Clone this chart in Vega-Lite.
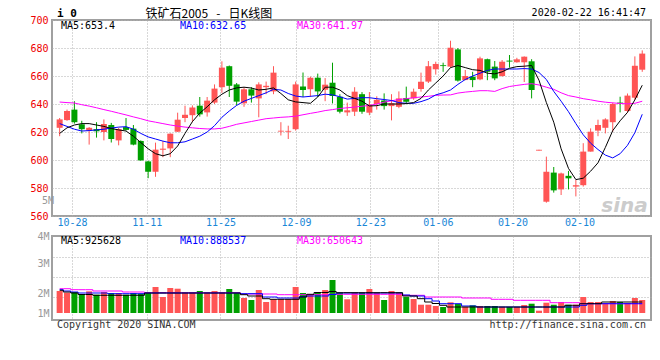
{
  "$schema": "https://vega.github.io/schema/vega-lite/v6.json",
  "padding": {"left": 28, "top": 6, "right": 5, "bottom": 5},
  "background": "white",
  "bounds": "flush",
  "spacing": 20,
  "config": {
    "view": {"stroke": "#a0a0a0", "strokeWidth": 2},
    "axis": {"ticks": false, "domain": false, "gridColor": "#b0b0b0", "gridDash": [1, 2], "gridWidth": 1, "labelFont": "DejaVu Sans Mono", "labelFontSize": 10, "labelOverlap": false, "labelFlush": false},
    "text": {"font": "DejaVu Sans Mono", "fontSize": 10, "baseline": "middle"},
    "line": {"strokeWidth": 1}
  },
  "datasets": {
    "k": [
      {"i":0,"o":623,"h":630,"l":617,"c":629,"v":2.1,"m5":619,"m10":626,"m30":641.4,"a5":2.135,"a10":2.165,"a30":2.215},
      {"i":1,"o":628.5,"h":636,"l":628,"c":635,"v":2.015,"m5":623,"m10":624,"m30":641,"a5":2.05,"a10":2.1,"a30":2.215},
      {"i":2,"o":636,"h":642,"l":626,"c":627,"v":2.05,"m5":625,"m10":622,"m30":640.7,"a5":2.0,"a10":2.05,"a30":2.165},
      {"i":3,"o":625.5,"h":628,"l":619,"c":622,"v":1.915,"m5":626,"m10":620.7,"m30":639.5,"a5":1.925,"a10":2.0,"a30":2.165},
      {"i":4,"o":621,"h":623.5,"l":611,"c":623,"v":2.085,"m5":626,"m10":621,"m30":638.5,"a5":1.925,"a10":2.0,"a30":2.165},
      {"i":5,"o":622,"h":627,"l":616,"c":620.5,"v":1.915,"m5":625,"m10":621.5,"m30":637.3,"a5":1.885,"a10":2.0,"a30":2.1},
      {"i":6,"o":620,"h":629,"l":614,"c":625.7,"v":2.05,"m5":624,"m10":622,"m30":636,"a5":1.885,"a10":2.0,"a30":2.1},
      {"i":7,"o":625,"h":626.5,"l":612.5,"c":615,"v":2.0,"m5":622.5,"m10":622.8,"m30":634.8,"a5":1.885,"a10":1.965,"a30":2.1},
      {"i":8,"o":614,"h":623,"l":610.5,"c":622,"v":2.0,"m5":621.5,"m10":623.5,"m30":633.5,"a5":1.885,"a10":1.965,"a30":2.1},
      {"i":9,"o":623.5,"h":630,"l":621,"c":621.5,"v":1.915,"m5":620.7,"m10":623.8,"m30":632.2,"a5":1.885,"a10":1.965,"a30":2.05},
      {"i":10,"o":622.4,"h":625,"l":610.5,"c":611,"v":2.0,"m5":617,"m10":622,"m30":630.8,"a5":1.885,"a10":1.965,"a30":2.05},
      {"i":11,"o":613.6,"h":614,"l":599.5,"c":599.7,"v":1.965,"m5":612.5,"m10":619,"m30":629.5,"a5":1.885,"a10":1.965,"a30":2.05},
      {"i":12,"o":599,"h":599.5,"l":587,"c":591.6,"v":2.0,"m5":608,"m10":616.5,"m30":628,"a5":2.0,"a10":2.0,"a30":2.015},
      {"i":13,"o":591.6,"h":612.4,"l":588,"c":607.4,"v":2.3,"m5":604.5,"m10":615,"m30":627,"a5":2.0,"a10":2.0,"a30":2.015},
      {"i":14,"o":607.3,"h":613.5,"l":602,"c":608.1,"v":1.8,"m5":603,"m10":613.5,"m30":626,"a5":2.0,"a10":2.0,"a30":2.015},
      {"i":15,"o":608.3,"h":619,"l":602,"c":618.8,"v":2.25,"m5":604.5,"m10":612.3,"m30":625,"a5":2.0,"a10":2.0,"a30":2.015},
      {"i":16,"o":620.2,"h":633.8,"l":620,"c":628.8,"v":2.215,"m5":610,"m10":612.3,"m30":624.2,"a5":2.0,"a10":2.0,"a30":2.015},
      {"i":17,"o":630,"h":638.8,"l":627,"c":632.3,"v":2.0,"m5":619,"m10":613,"m30":623.5,"a5":2.0,"a10":2.0,"a30":2.015},
      {"i":18,"o":632,"h":639,"l":627,"c":637.5,"v":2.0,"m5":627.4,"m10":615,"m30":623,"a5":2.0,"a10":2.0,"a30":2.015},
      {"i":19,"o":638.8,"h":645,"l":631,"c":632.6,"v":2.1,"m5":633.5,"m10":617,"m30":622.5,"a5":2.0,"a10":2.0,"a30":2.015},
      {"i":20,"o":634,"h":645,"l":631,"c":642.4,"v":2.0,"m5":638,"m10":620,"m30":622.2,"a5":2.0,"a10":2.0,"a30":2.015},
      {"i":21,"o":641,"h":654,"l":640,"c":651,"v":2.1,"m5":643,"m10":624.5,"m30":622.2,"a5":2.0,"a10":2.0,"a30":2.015},
      {"i":22,"o":652,"h":670.5,"l":648,"c":666,"v":2.0,"m5":647,"m10":630.5,"m30":622.7,"a5":2.0,"a10":2.0,"a30":2.015},
      {"i":23,"o":667,"h":667.5,"l":645,"c":653,"v":2.2,"m5":650,"m10":635,"m30":624,"a5":2.0,"a10":2.0,"a30":2.015},
      {"i":24,"o":654,"h":655,"l":639,"c":641.7,"v":2.0,"m5":651.5,"m10":639,"m30":625.5,"a5":2.0,"a10":2.0,"a30":2.015},
      {"i":25,"o":640.5,"h":652,"l":638,"c":650.5,"v":1.75,"m5":652,"m10":642,"m30":626.5,"a5":1.915,"a10":1.965,"a30":1.95},
      {"i":26,"o":650.5,"h":652,"l":641,"c":646,"v":1.65,"m5":651.4,"m10":644,"m30":627.5,"a5":1.85,"a10":1.965,"a30":1.95},
      {"i":27,"o":644,"h":655.5,"l":630.5,"c":654,"v":2.15,"m5":650,"m10":646,"m30":628.5,"a5":1.85,"a10":1.965,"a30":1.95},
      {"i":28,"o":652,"h":656,"l":647,"c":653,"v":1.55,"m5":650.5,"m10":648,"m30":629.5,"a5":1.715,"a10":1.8,"a30":1.95},
      {"i":29,"o":649,"h":667,"l":647,"c":662.4,"v":1.685,"m5":651.5,"m10":650.5,"m30":630,"a5":1.685,"a10":1.8,"a30":1.95},
      {"i":30,"o":620.3,"h":627,"l":617.5,"c":620.9,"v":1.685,"m5":647.5,"m10":650,"m30":630.5,"a5":1.685,"a10":1.75,"a30":1.915},
      {"i":31,"o":620.2,"h":624.5,"l":615,"c":620.8,"v":1.685,"m5":643,"m10":647.5,"m30":630.8,"a5":1.685,"a10":1.75,"a30":1.915},
      {"i":32,"o":622,"h":656,"l":621,"c":654,"v":2.3,"m5":641.5,"m10":645.7,"m30":631.3,"a5":1.685,"a10":1.75,"a30":1.915},
      {"i":33,"o":652.5,"h":662.5,"l":645,"c":650,"v":2.0,"m5":641,"m10":645,"m30":632.3,"a5":1.8,"a10":1.815,"a30":1.915},
      {"i":34,"o":650.5,"h":659.5,"l":645,"c":658.8,"v":1.95,"m5":640.5,"m10":645.5,"m30":633.3,"a5":1.935,"a10":1.85,"a30":1.915},
      {"i":35,"o":658.8,"h":661.7,"l":645,"c":649,"v":2.05,"m5":645,"m10":646,"m30":634.2,"a5":2.025,"a10":1.85,"a30":1.915},
      {"i":36,"o":650.2,"h":658.5,"l":642,"c":653.8,"v":2.15,"m5":652,"m10":647,"m30":635.3,"a5":2.025,"a10":1.85,"a30":1.915},
      {"i":37,"o":655.2,"h":669.5,"l":640.4,"c":645.7,"v":2.65,"m5":652,"m10":646.5,"m30":636,"a5":2.075,"a10":1.925,"a30":1.935},
      {"i":38,"o":645.2,"h":647,"l":633.3,"c":634.5,"v":2.0,"m5":650,"m10":645.2,"m30":636.8,"a5":2.015,"a10":2.0,"a30":1.935},
      {"i":39,"o":634,"h":641,"l":631.5,"c":635.5,"v":1.685,"m5":646,"m10":643.5,"m30":637.3,"a5":2.015,"a10":2.0,"a30":1.935},
      {"i":40,"o":634.5,"h":652,"l":631.4,"c":648.8,"v":2.0,"m5":644,"m10":644,"m30":637.8,"a5":2.015,"a10":2.0,"a30":1.935},
      {"i":41,"o":647,"h":648.5,"l":633,"c":634.5,"v":2.0,"m5":642,"m10":644.5,"m30":638.4,"a5":2.015,"a10":2.0,"a30":1.935},
      {"i":42,"o":633.8,"h":648.5,"l":632,"c":639.5,"v":2.2,"m5":638.6,"m10":644.5,"m30":639,"a5":2.015,"a10":2.0,"a30":1.935},
      {"i":43,"o":640,"h":645.5,"l":636,"c":643,"v":2.0,"m5":638.8,"m10":643.8,"m30":640,"a5":2.015,"a10":2.0,"a30":1.935},
      {"i":44,"o":642.5,"h":647.6,"l":636,"c":638.5,"v":1.65,"m5":640,"m10":643.2,"m30":641.3,"a5":2.015,"a10":2.0,"a30":1.935},
      {"i":45,"o":638.5,"h":647,"l":628.3,"c":640.5,"v":2.1,"m5":640,"m10":642.5,"m30":642.3,"a5":2.015,"a10":2.0,"a30":1.935},
      {"i":46,"o":638,"h":649,"l":637,"c":644,"v":2.0,"m5":640,"m10":641,"m30":643.2,"a5":2.015,"a10":2.0,"a30":1.935},
      {"i":47,"o":644.3,"h":652.4,"l":640,"c":641.6,"v":1.8,"m5":640.3,"m10":640.5,"m30":643.8,"a5":1.85,"a10":1.9,"a30":1.885},
      {"i":48,"o":644,"h":651,"l":643,"c":648.8,"v":1.7,"m5":641,"m10":640.5,"m30":644.5,"a5":1.85,"a10":1.85,"a30":1.885},
      {"i":49,"o":650.7,"h":662.4,"l":648.8,"c":655.9,"v":1.415,"m5":644,"m10":641.7,"m30":645,"a5":1.715,"a10":1.85,"a30":1.885},
      {"i":50,"o":656,"h":670.7,"l":655,"c":667,"v":1.415,"m5":650,"m10":643.5,"m30":645.5,"a5":1.55,"a10":1.715,"a30":1.8},
      {"i":51,"o":664.8,"h":670.2,"l":661,"c":668.6,"v":1.35,"m5":655,"m10":646.5,"m30":646.2,"a5":1.475,"a10":1.6,"a30":1.8},
      {"i":52,"o":667.7,"h":669.5,"l":663,"c":667.1,"v":1.3,"m5":660,"m10":648,"m30":646.4,"a5":1.385,"a10":1.465,"a30":1.8},
      {"i":53,"o":666.7,"h":685.2,"l":666,"c":680.2,"v":1.535,"m5":666,"m10":650,"m30":646.5,"a5":1.3,"a10":1.465,"a30":1.8},
      {"i":54,"o":679,"h":680,"l":656,"c":656.7,"v":1.45,"m5":667.5,"m10":654,"m30":647.8,"a5":1.3,"a10":1.465,"a30":1.8},
      {"i":55,"o":657.1,"h":664.3,"l":657,"c":660,"v":1.3,"m5":666,"m10":657.5,"m30":648.5,"a5":1.3,"a10":1.35,"a30":1.75},
      {"i":56,"o":659.5,"h":663,"l":652,"c":657.1,"v":1.385,"m5":664.5,"m10":660,"m30":649,"a5":1.3,"a10":1.35,"a30":1.75},
      {"i":57,"o":657.6,"h":673.8,"l":657,"c":672.6,"v":1.35,"m5":664,"m10":662,"m30":649.5,"a5":1.3,"a10":1.3,"a30":1.75},
      {"i":58,"o":672,"h":672.4,"l":657,"c":663,"v":1.35,"m5":662,"m10":664,"m30":649.5,"a5":1.3,"a10":1.3,"a30":1.75},
      {"i":59,"o":666.7,"h":670.7,"l":657,"c":658.3,"v":1.35,"m5":661.5,"m10":665,"m30":649,"a5":1.3,"a10":1.3,"a30":1.685},
      {"i":60,"o":660,"h":671.4,"l":659.5,"c":670.2,"v":1.3,"m5":663,"m10":665,"m30":651,"a5":1.3,"a10":1.3,"a30":1.685},
      {"i":61,"o":671,"h":675,"l":666,"c":670.3,"v":1.3,"m5":665.5,"m10":665,"m30":652.5,"a5":1.3,"a10":1.3,"a30":1.685},
      {"i":62,"o":669.8,"h":673,"l":669.5,"c":671.9,"v":1.3,"m5":666.7,"m10":665,"m30":653.3,"a5":1.3,"a10":1.3,"a30":1.635},
      {"i":63,"o":669.8,"h":674,"l":655.7,"c":673.8,"v":1.4,"m5":667,"m10":665.3,"m30":654,"a5":1.3,"a10":1.3,"a30":1.635},
      {"i":64,"o":670.5,"h":672,"l":644,"c":650,"v":1.465,"m5":667.5,"m10":665,"m30":654.5,"a5":1.3,"a10":1.3,"a30":1.635},
      {"i":65,"o":606.7,"h":607.3,"l":606.7,"c":607.3,"v":1.115,"m5":657,"m10":662.5,"m30":653.6,"a5":1.3,"a10":1.3,"a30":1.635},
      {"i":66,"o":570.2,"h":602.4,"l":569.5,"c":591.6,"v":1.515,"m5":641,"m10":657.5,"m30":652,"a5":1.3,"a10":1.3,"a30":1.635},
      {"i":67,"o":591,"h":595,"l":576.7,"c":578.3,"v":1.415,"m5":627,"m10":649,"m30":650.5,"a5":1.3,"a10":1.3,"a30":1.515},
      {"i":68,"o":579,"h":591,"l":575,"c":590.4,"v":1.55,"m5":608,"m10":642,"m30":648,"a5":1.3,"a10":1.3,"a30":1.515},
      {"i":69,"o":588.7,"h":592.2,"l":579,"c":586.9,"v":1.415,"m5":594,"m10":634.5,"m30":646,"a5":1.385,"a10":1.3,"a30":1.515},
      {"i":70,"o":581,"h":585.7,"l":574,"c":582,"v":1.415,"m5":586,"m10":626,"m30":645,"a5":1.385,"a10":1.3,"a30":1.515},
      {"i":71,"o":582,"h":612,"l":581,"c":606,"v":1.8,"m5":587,"m10":618,"m30":643.8,"a5":1.465,"a10":1.385,"a30":1.465},
      {"i":72,"o":606,"h":622.6,"l":606,"c":620.2,"v":1.55,"m5":592,"m10":612,"m30":643,"a5":1.465,"a10":1.465,"a30":1.465},
      {"i":73,"o":621,"h":628.8,"l":617,"c":625,"v":1.55,"m5":598,"m10":607.5,"m30":642,"a5":1.465,"a10":1.465,"a30":1.465},
      {"i":74,"o":623,"h":629.8,"l":619,"c":629,"v":1.485,"m5":609,"m10":603.5,"m30":641.3,"a5":1.55,"a10":1.465,"a30":1.465},
      {"i":75,"o":627,"h":641,"l":620.2,"c":640,"v":1.6,"m5":621,"m10":601.5,"m30":640.8,"a5":1.55,"a10":1.465,"a30":1.465},
      {"i":76,"o":641,"h":645.2,"l":634,"c":640.3,"v":1.55,"m5":628,"m10":604.5,"m30":640.4,"a5":1.55,"a10":1.465,"a30":1.465},
      {"i":77,"o":635,"h":647.5,"l":633.8,"c":646,"v":1.5,"m5":634,"m10":610.5,"m30":640.1,"a5":1.55,"a10":1.465,"a30":1.465},
      {"i":78,"o":644.5,"h":674,"l":643,"c":667.3,"v":1.75,"m5":643,"m10":619.5,"m30":640.5,"a5":1.55,"a10":1.465,"a30":1.465},
      {"i":79,"o":664.5,"h":678.3,"l":663,"c":676,"v":1.65,"m5":653.4,"m10":632.65,"m30":641.97,"a5":1.55,"a10":1.465,"a30":1.465}
    ]
  },
  "vconcat": [
    {
      "width": 599,
      "height": 196,
      "data": {"name": "k"},
      "resolve": {"axis": {"x": "independent", "y": "independent"}},
      "layer": [
        {
          "mark": {"type": "rule", "strokeWidth": 1},
          "encoding": {
            "x": {"field": "i", "type": "quantitative", "scale": {"domain": [-0.36, 79.51], "nice": false, "zero": false},
              "axis": {"title": null, "values": [1.68, 11.81, 21.81, 32.04, 42.13, 51.29, 61.41, 70.49], "grid": true,
                "labelExpr": "datum.value < 5 ? '10-28' : datum.value < 15 ? '11-11' : datum.value < 25 ? '11-25' : datum.value < 35 ? '12-09' : datum.value < 45 ? '12-23' : datum.value < 55 ? '01-06' : datum.value < 65 ? '01-20' : '02-10'",
                "labelAlign": "center", "labelBaseline": "top", "labelPadding": 1, "labelColor": "#1a87d7", "labelOverlap": false, "labelFlush": false}},
            "y": {"field": "l", "type": "quantitative", "scale": {"domain": [560, 700], "nice": false, "zero": false},
              "axis": {"title": null, "values": [560, 580, 600, 620, 640, 660, 680, 700], "grid": true,
                "labelColor": "#ee0000", "labelPadding": 4, "labelOverlap": false}},
            "y2": {"field": "h"},
            "color": {"condition": {"test": "datum.c >= datum.o", "value": "#ff5555"}, "value": "#00a000"}
          }
        },
        {
          "mark": {"type": "bar", "width": 6},
          "encoding": {
            "x": {"field": "i", "type": "quantitative", "axis": null},
            "y": {"field": "o", "type": "quantitative", "axis": null},
            "y2": {"field": "c"},
            "color": {"condition": {"test": "datum.c >= datum.o", "value": "#ff5555"}, "value": "#00a000"}
          }
        },
        {
          "mark": {"type": "line", "color": "#ff00ff", "strokeWidth": 1},
          "encoding": {"x": {"field": "i", "type": "quantitative", "axis": null}, "y": {"field": "m30", "type": "quantitative", "axis": null}}
        },
        {
          "mark": {"type": "line", "color": "#0000ff", "strokeWidth": 1},
          "encoding": {"x": {"field": "i", "type": "quantitative", "axis": null}, "y": {"field": "m10", "type": "quantitative", "axis": null}}
        },
        {
          "mark": {"type": "line", "color": "#000000", "strokeWidth": 1},
          "encoding": {"x": {"field": "i", "type": "quantitative", "axis": null}, "y": {"field": "m5", "type": "quantitative", "axis": null}}
        },
        {
          "data": {"values": [{"t": "sina"}]},
          "mark": {"type": "text", "align": "center", "font": "DejaVu Sans", "fontSize": 20, "fontStyle": "italic", "fontWeight": "bold", "color": "#cccccc"},
          "encoding": {"x": {"datum": 76.6, "axis": null}, "y": {"datum": 567, "axis": null}, "text": {"field": "t"}}
        },
        {
          "data": {"values": [{"t": "5M"}]},
          "mark": {"type": "text", "align": "right", "color": "#999999"},
          "encoding": {"x": {"datum": -0.76, "axis": null}, "y": {"datum": 570.9, "axis": null}, "text": {"field": "t"}}
        },
        {
          "data": {"values": [{"t": "MA5:653.4"}]},
          "mark": {"type": "text", "align": "left", "color": "#000000"},
          "encoding": {"x": {"datum": 0.17, "axis": null}, "y": {"datum": 696, "axis": null}, "text": {"field": "t"}}
        },
        {
          "data": {"values": [{"t": "MA10:632.65"}]},
          "mark": {"type": "text", "align": "left", "color": "#0000ff"},
          "encoding": {"x": {"datum": 16.31, "axis": null}, "y": {"datum": 696, "axis": null}, "text": {"field": "t"}}
        },
        {
          "data": {"values": [{"t": "MA30:641.97"}]},
          "mark": {"type": "text", "align": "left", "color": "#ff00ff"},
          "encoding": {"x": {"datum": 32.17, "axis": null}, "y": {"datum": 696, "axis": null}, "text": {"field": "t"}}
        },
        {
          "data": {"values": [{"t": "i 0"}]},
          "mark": {"type": "text", "align": "left", "fontSize": 11, "fontWeight": "bold", "color": "#000000"},
          "encoding": {"x": {"datum": -0.36, "axis": null}, "y": {"datum": 704.5, "axis": null}, "text": {"field": "t"}}
        },
        {
          "data": {"values": [{"t": "铁矿石2005\u00a0\u00a0\u00a0-\u00a0\u00a0\u00a0日K线图"}]},
          "mark": {"type": "text", "align": "left", "font": "Noto Sans CJK SC", "fontSize": 12, "color": "#000000"},
          "encoding": {"x": {"datum": 11.64, "axis": null}, "y": {"datum": 704.5, "axis": null}, "text": {"field": "t"}}
        },
        {
          "data": {"values": [{"t": "2020-02-22 16:41:47"}]},
          "mark": {"type": "text", "align": "right", "color": "#000000"},
          "encoding": {"x": {"datum": 79.51, "axis": null}, "y": {"datum": 704.7, "axis": null}, "text": {"field": "t"}}
        }
      ]
    },
    {
      "width": 599,
      "height": 84,
      "data": {"name": "k"},
      "resolve": {"axis": {"x": "independent", "y": "independent"}},
      "layer": [
        {
          "mark": {"type": "bar", "width": 6},
          "encoding": {
            "x": {"field": "i", "type": "quantitative", "scale": {"domain": [-0.36, 79.51], "nice": false, "zero": false},
              "axis": {"title": null, "values": [1.68, 11.81, 21.81, 32.04, 42.13, 51.29, 61.41, 70.49], "grid": true, "labels": false}},
            "y": {"field": "v", "type": "quantitative", "scale": {"domain": [0.65, 4.85], "nice": false, "zero": false},
              "axis": {"title": null, "orient": "left", "values": [1, 2, 3.5, 4.85], "grid": false,
                "labelExpr": "datum.value == 1 ? '1M' : datum.value == 2 ? '2M' : datum.value == 3.5 ? '3M' : '4M'",
                "labelColor": "#999999", "labelPadding": 3, "labelOverlap": false}},
            "y2": {"datum": 1},
            "color": {"condition": {"test": "datum.c >= datum.o", "value": "#ff5555"}, "value": "#00a000"}
          }
        },
        {
          "mark": {"type": "line", "color": "#ff00ff", "strokeWidth": 1, "interpolate": "step"},
          "encoding": {"x": {"field": "i", "type": "quantitative", "axis": null},
            "y": {"field": "a30", "type": "quantitative", "axis": {"title": null, "orient": "right", "values": [1.8, 2.8, 3.8], "grid": true, "labels": false}}}
        },
        {
          "mark": {"type": "line", "color": "#0000ff", "strokeWidth": 1, "interpolate": "step"},
          "encoding": {"x": {"field": "i", "type": "quantitative", "axis": null}, "y": {"field": "a10", "type": "quantitative", "axis": null}}
        },
        {
          "mark": {"type": "line", "color": "#000000", "strokeWidth": 1, "interpolate": "step"},
          "encoding": {"x": {"field": "i", "type": "quantitative", "axis": null}, "y": {"field": "a5", "type": "quantitative", "axis": null}}
        },
        {
          "data": {"values": [{"t": "MA5:925628"}]},
          "mark": {"type": "text", "align": "left", "color": "#000000"},
          "encoding": {"x": {"datum": 0.17, "axis": null}, "y": {"datum": 4.625, "axis": null}, "text": {"field": "t"}}
        },
        {
          "data": {"values": [{"t": "MA10:888537"}]},
          "mark": {"type": "text", "align": "left", "color": "#0000ff"},
          "encoding": {"x": {"datum": 16.31, "axis": null}, "y": {"datum": 4.625, "axis": null}, "text": {"field": "t"}}
        },
        {
          "data": {"values": [{"t": "MA30:650643"}]},
          "mark": {"type": "text", "align": "left", "color": "#ff00ff"},
          "encoding": {"x": {"datum": 32.17, "axis": null}, "y": {"datum": 4.625, "axis": null}, "text": {"field": "t"}}
        },
        {
          "data": {"values": [{"t": "Copyright 2020 SINA.COM"}]},
          "mark": {"type": "text", "align": "left", "color": "#333333"},
          "encoding": {"x": {"datum": -0.36, "axis": null}, "y": {"datum": 0.4, "axis": null}, "text": {"field": "t"}}
        },
        {
          "data": {"values": [{"t": "http://finance.sina.com.cn"}]},
          "mark": {"type": "text", "align": "right", "color": "#333333"},
          "encoding": {"x": {"datum": 79.51, "axis": null}, "y": {"datum": 0.4, "axis": null}, "text": {"field": "t"}}
        }
      ]
    }
  ]
}
